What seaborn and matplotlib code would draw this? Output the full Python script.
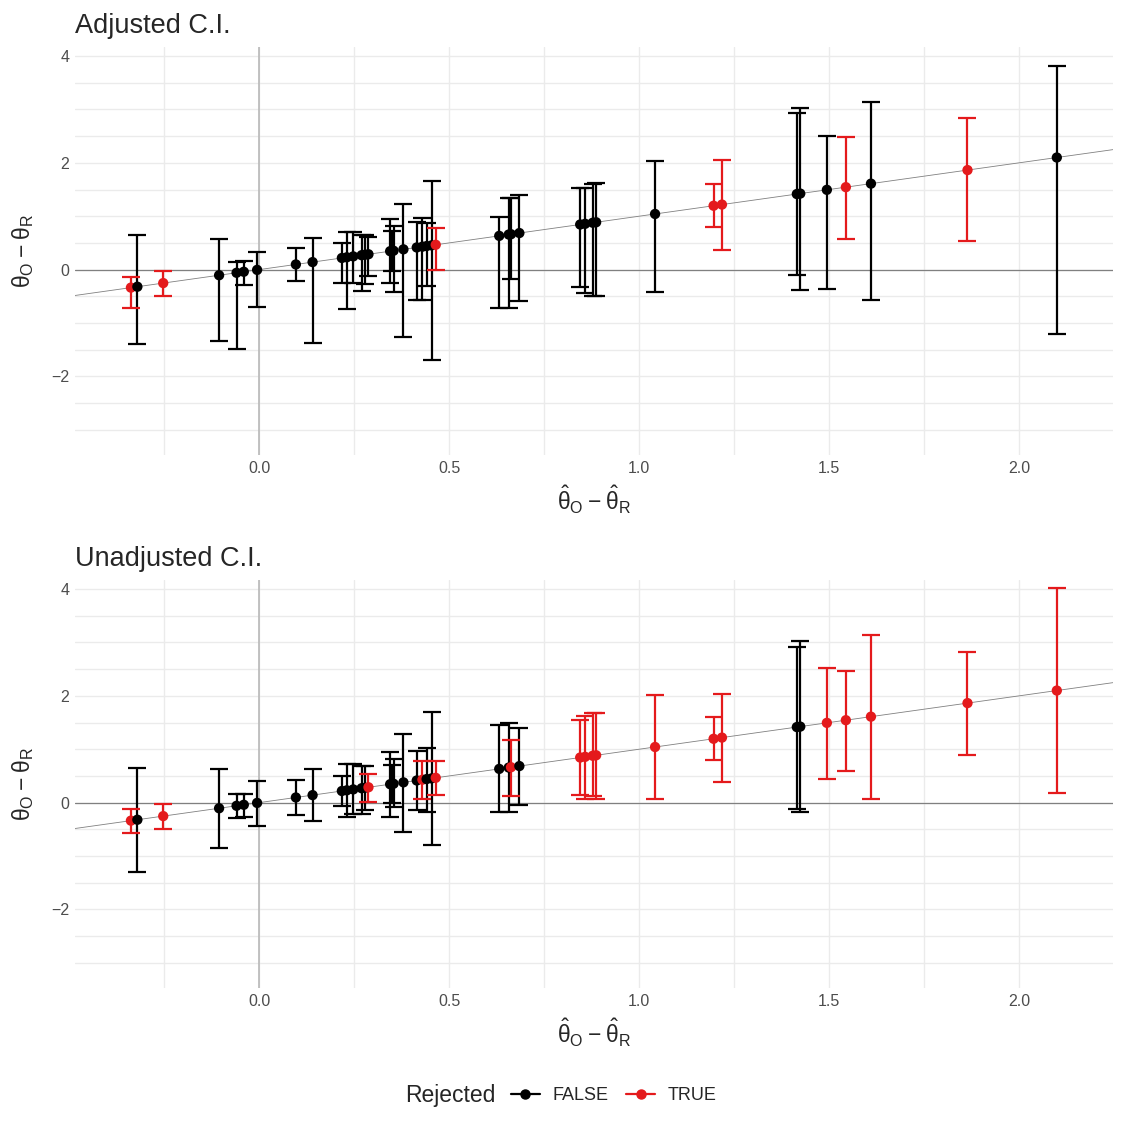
import numpy as np
import pandas as pd
import matplotlib.pyplot as plt
from matplotlib.lines import Line2D
import seaborn as sns

# point estimates (theta_hat_O - theta_hat_R), shared by both panels
est = [-0.337, -0.320, -0.252, -0.105, -0.059, -0.040, -0.005, 0.097, 0.141,
       0.218, 0.231, 0.248, 0.270, 0.279, 0.288, 0.345, 0.350, 0.354, 0.380,
       0.415, 0.430, 0.441, 0.454, 0.465, 0.632, 0.657, 0.663, 0.685,
       0.845, 0.858, 0.878, 0.887, 1.042, 1.196, 1.218, 1.415, 1.424,
       1.494, 1.544, 1.610, 1.864, 2.099]

# adjusted C.I.
adj_lo = [-0.72, -1.40, -0.49, -1.34, -1.48, -0.28, -0.70, -0.22, -1.375,
          -0.25, -0.73, -0.25, -0.40, -0.26, -0.12, -0.25, -0.03, -0.42, -1.26,
          -0.57, -0.57, -0.31, -1.69, 0.00, -0.72, -0.72, -0.17, -0.58,
          -0.32, -0.44, -0.49, -0.49, -0.41, 0.79, 0.375, -0.11, -0.38,
          -0.36, 0.57, -0.56, 0.54, -1.21]
adj_hi = [-0.14, 0.65, -0.02, 0.58, 0.15, 0.17, 0.33, 0.40, 0.59,
          0.50, 0.70, 0.70, 0.65, 0.65, 0.62, 0.95, 0.73, 0.82, 1.23,
          0.90, 0.97, 0.87, 1.66, 0.78, 0.98, 1.35, 1.35, 1.39,
          1.53, 1.53, 1.61, 1.62, 2.03, 1.61, 2.05, 2.94, 3.02,
          2.50, 2.48, 3.13, 2.83, 3.82]
adj_rej = [1, 0, 1, 0, 0, 0, 0, 0, 0,
           0, 0, 0, 0, 0, 0, 0, 0, 0, 0,
           0, 0, 0, 0, 1, 0, 0, 0, 0,
           0, 0, 0, 0, 0, 1, 1, 0, 0,
           0, 1, 0, 1, 0]

# unadjusted C.I.
unadj_lo = [-0.57, -1.30, -0.49, -0.85, -0.29, -0.27, -0.43, -0.23, -0.35,
            -0.07, -0.27, -0.22, -0.22, -0.13, 0.02, -0.26, -0.01, -0.08, -0.55,
            -0.13, 0.07, -0.17, -0.80, 0.14, -0.18, -0.18, 0.12, -0.04,
            0.14, 0.07, 0.12, 0.06, 0.06, 0.79, 0.39, -0.12, -0.18,
            0.44, 0.60, 0.07, 0.89, 0.18]
unadj_hi = [-0.11, 0.65, -0.02, 0.63, 0.17, 0.17, 0.41, 0.42, 0.63,
            0.49, 0.73, 0.73, 0.69, 0.69, 0.54, 0.94, 0.70, 0.82, 1.29,
            0.96, 0.78, 1.02, 1.70, 0.78, 1.45, 1.49, 1.18, 1.40,
            1.54, 1.63, 1.68, 1.68, 2.02, 1.60, 2.04, 2.92, 3.02,
            2.53, 2.47, 3.13, 2.83, 4.01]
unadj_rej = [1, 0, 1, 0, 0, 0, 0, 0, 0,
             0, 0, 0, 0, 0, 1, 0, 0, 0, 0,
             0, 1, 0, 0, 1, 0, 0, 1, 0,
             1, 1, 1, 1, 1, 1, 1, 0, 0,
             1, 1, 1, 1, 1]

RED = "#E41A1C"
pal = {False: "black", True: RED}

sns.set_theme(style="white")
plt.rcParams["font.family"] = ["Liberation Sans", "DejaVu Sans"]
plt.rcParams["mathtext.fontset"] = "dejavusans"

fig = plt.figure(figsize=(11.25, 11.25), dpi=100)
ax1 = fig.add_axes([0.0667, 0.5956, 0.9227, 0.3627])
ax2 = fig.add_axes([0.0667, 0.1218, 0.9227, 0.3627])


def panel(ax, lo, hi, rej, title):
    df = pd.DataFrame({"est": est, "lo": lo, "hi": hi,
                       "rej": [bool(r) for r in rej]})
    # grid
    for v in np.arange(-0.25, 2.3, 0.25):
        ax.axvline(v, color="#EBEBEB", lw=1.0, zorder=0)
    for h in np.arange(-3, 4.01, 0.5):
        ax.axhline(h, color="#EBEBEB", lw=1.0, zorder=0)
    ax.axvline(0, color="#B3B3B3", lw=1.1, zorder=1)
    ax.axhline(0, color="#808080", lw=0.9, zorder=1)
    ax.axline((0, 0), slope=1, color="#808080", lw=0.6, zorder=1)

    for flag, sub in df.groupby("rej"):
        ax.errorbar(sub["est"], sub["est"],
                    yerr=[sub["est"] - sub["lo"], sub["hi"] - sub["est"]],
                    fmt="none", ecolor=pal[flag], elinewidth=1.6,
                    capsize=6.5, capthick=1.6, zorder=2)
    sns.scatterplot(data=df, x="est", y="est", hue="rej", palette=pal,
                    s=55, linewidth=0, legend=False, ax=ax, zorder=3)

    ax.set_xlim(-0.484, 2.247)
    ax.set_ylim(-3.47, 4.17)
    ax.set_xticks([0, 0.5, 1.0, 1.5, 2.0])
    ax.set_xticklabels(["0.0", "0.5", "1.0", "1.5", "2.0"])
    ax.set_yticks([-2, 0, 2, 4])
    ax.set_yticklabels(["\u22122", "0", "2", "4"])
    ax.tick_params(axis="both", length=0, labelsize=11.5,
                   labelcolor="#4D4D4D", pad=4)
    for s in ax.spines.values():
        s.set_visible(False)
    ax.set_xlabel(r"$\mathregular{\hat{\theta}_O - \hat{\theta}_R}$",
                  fontsize=16.5, labelpad=6)
    ax.set_ylabel(r"$\mathregular{\theta_O - \theta_R}$", fontsize=16.5,
                  labelpad=11)
    ax.set_title(title, loc="left", fontsize=19.5, pad=10)


panel(ax1, adj_lo, adj_hi, adj_rej, "Adjusted C.I.")
panel(ax2, unadj_lo, unadj_hi, unadj_rej, "Unadjusted C.I.")

# legend at the bottom
fig.text(0.36, 0.026, "Rejected", fontsize=16.5, ha="left", va="center")
handles = [Line2D([0], [0], color="black", marker="o", lw=1.6, ms=6.5),
           Line2D([0], [0], color=RED, marker="o", lw=1.6, ms=6.5)]
fig.legend(handles, ["FALSE", "TRUE"], ncol=2, frameon=False,
           loc="center left", bbox_to_anchor=(0.4396, 0.026),
           fontsize=13, handlelength=1.6, columnspacing=1.0,
           handletextpad=0.7)

fig.savefig("out.png", dpi=100)
